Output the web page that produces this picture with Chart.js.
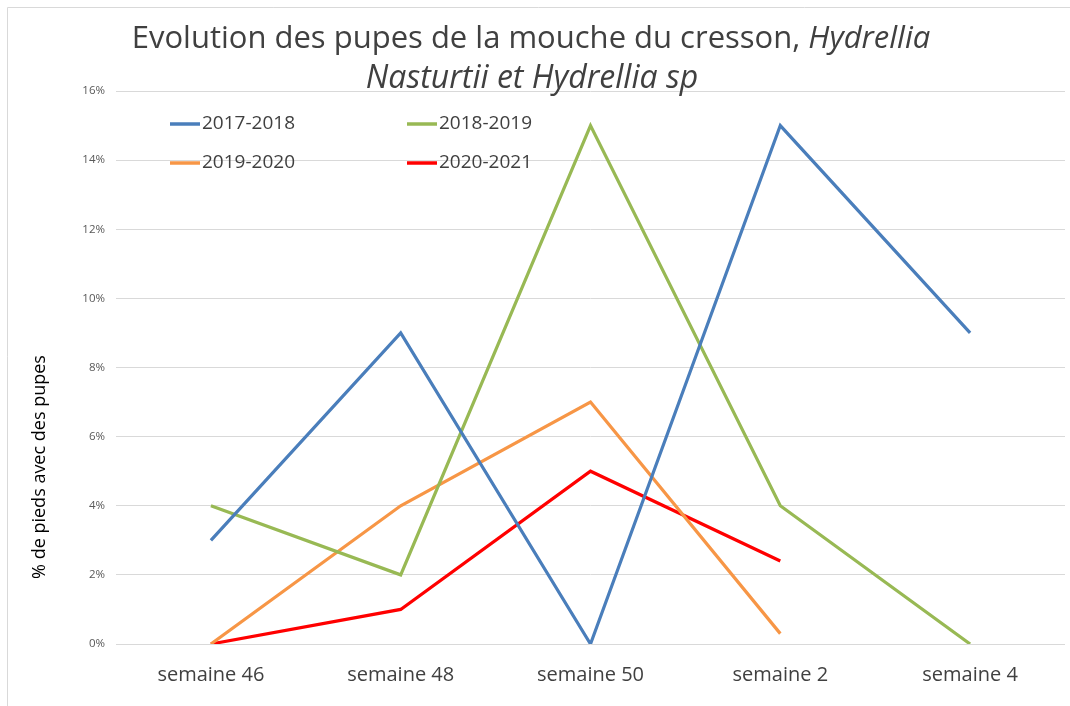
<!DOCTYPE html>
<html>
<head>
<meta charset="utf-8">
<script src="https://cdn.jsdelivr.net/npm/chart.js@4.4.0/dist/chart.umd.min.js"></script>
<style>
  html, body { margin: 0; padding: 0; background: #fff; }
  #wrap { width: 1070px; height: 706px; }
</style>
</head>
<body>
<div id="wrap"><canvas id="pupesChart" width="1070" height="706"></canvas></div>
<script>
// Categories and series (values in %)
const weeks = ['semaine 46', 'semaine 48', 'semaine 50', 'semaine 2', 'semaine 4'];
const s2017 = [3, 9, 0, 15, 9];
const s2018 = [4, 2, 15, 4, 0];
const s2019 = [0, 4, 7, 0.3, null];
const s2020 = [0, 1, 5, 2.4, null];
const yTicks = [0, 2, 4, 6, 8, 10, 12, 14, 16];

const textGrey = '#404040';
const FONT = '"Open Sans", "Liberation Sans", sans-serif';

// frame, title, axis title and legend drawn by hand (Excel look)
const excelDecor = {
    id: 'excelDecor',
    afterDraw(chart) {
        const ctx = chart.ctx;
        ctx.save();

        // cropped frame border
        ctx.strokeStyle = '#d9d9d9';
        ctx.lineWidth = 1;
        ctx.beginPath();
        ctx.moveTo(7.5, 706);
        ctx.lineTo(7.5, 7.5);
        ctx.lineTo(1070, 7.5);
        ctx.stroke();

        // title, two lines, partly italic
        ctx.fillStyle = textGrey;
        ctx.textBaseline = 'middle';
        ctx.textAlign = 'left';
        const normal = '31px ' + FONT;
        const italic = 'italic 31px ' + FONT;
        const part1 = 'Evolution des pupes de la mouche du cresson, ';
        const part2 = 'Hydrellia';
        ctx.font = normal;
        const w1 = ctx.measureText(part1).width;
        ctx.font = italic;
        const w2 = ctx.measureText(part2).width;
        let x = 531 - (w1 + w2) / 2;
        ctx.font = normal;
        ctx.fillText(part1, x, 39);
        ctx.font = italic;
        ctx.fillText(part2, x + w1, 39);
        ctx.textAlign = 'center';
        ctx.font = 'italic 32px ' + FONT;
        ctx.fillText('Nasturtii et Hydrellia sp', 532, 79);

        // y axis title
        ctx.save();
        ctx.translate(40, 467);
        ctx.rotate(-Math.PI / 2);
        ctx.font = '18px ' + FONT;
        ctx.fillStyle = '#000';
        ctx.textAlign = 'center';
        ctx.fillText('% de pieds avec des pupes', 0, 0);
        ctx.restore();

        // legend inside plot area, two columns
        const cols = [170, 407];
        const rows = [124, 163];
        ctx.font = '19px ' + FONT;
        ctx.textAlign = 'left';
        chart.data.datasets.forEach(function(ds, i) {
            const lx = cols[i % 2];
            const ly = rows[Math.floor(i / 2)];
            ctx.strokeStyle = ds.borderColor;
            ctx.lineWidth = 3.5;
            ctx.beginPath();
            ctx.moveTo(lx, ly);
            ctx.lineTo(lx + 30, ly);
            ctx.stroke();
            ctx.fillStyle = textGrey;
            ctx.fillText(ds.label, lx + 32, ly);
        });

        ctx.restore();
    }
};

const ctx = document.getElementById('pupesChart').getContext('2d');
const pupesChart = new Chart(ctx, {
    type: 'line',
    data: {
        labels: weeks,
        datasets: [
            { label: '2017-2018', data: s2017, borderColor: '#4a7ebb' },
            { label: '2018-2019', data: s2018, borderColor: '#98b954' },
            { label: '2019-2020', data: s2019, borderColor: '#f79646' },
            { label: '2020-2021', data: s2020, borderColor: '#ff0000' }
        ]
    },
    options: {
        responsive: false,
        animation: false,
        layout: { padding: { top: 91, right: 5, left: 0, bottom: 0 } },
        elements: {
            line: { borderWidth: 3.2, tension: 0, fill: false },
            point: { radius: 0, hoverRadius: 0 }
        },
        plugins: {
            legend: { display: false },
            title: { display: false },
            tooltip: { enabled: false }
        },
        scales: {
            x: {
                offset: true,
                grid: { display: false, drawTicks: false },
                border: { display: false },
                ticks: {
                    color: textGrey,
                    font: { family: FONT, size: 20 },
                    padding: 19,
                    maxRotation: 0
                },
                afterFit: function(scale) { scale.height = 62; }
            },
            y: {
                min: 0,
                max: 16,
                afterBuildTicks: function(scale) {
                    scale.ticks = yTicks.map(function(v) { return { value: v }; });
                },
                grid: { color: '#d9d9d9', lineWidth: 1, drawTicks: false },
                border: { display: false },
                ticks: {
                    color: '#595959',
                    font: { family: FONT, size: 11.5 },
                    padding: 11,
                    callback: function(v) { return v + '%'; }
                },
                afterFit: function(scale) { scale.width = 116; }
            }
        }
    },
    plugins: [excelDecor]
});
</script>
</body>
</html>
